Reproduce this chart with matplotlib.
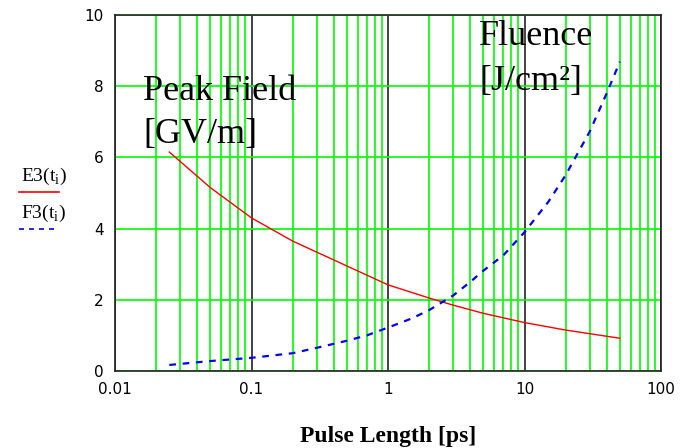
#! /usr/bin/env python3
"""
Peak field and fluence versus pulse length (log axis)
"""
import matplotlib
matplotlib.use('Agg')
import matplotlib.pyplot as plt
from matplotlib.lines import Line2D
from matplotlib.ticker import FixedLocator, NullFormatter

# values
t_e = [0.025, 0.05, 0.1, 0.2, 0.5, 1, 2, 3, 5, 10, 20, 50]
e3 = [6.15, 5.15, 4.3, 3.65, 2.95, 2.42, 2.05, 1.85, 1.62, 1.36, 1.15, 0.92]
t_f = [0.025, 0.05, 0.1, 0.2, 0.3, 0.5, 0.7, 1, 1.5, 2, 3, 4, 5, 7, 10, 15, 20, 30, 40, 50]
f3 = [0.17, 0.28, 0.37, 0.5, 0.65, 0.85, 1.0, 1.22, 1.48, 1.71, 2.12, 2.5, 2.82, 3.25,
      3.9, 4.76, 5.5, 6.72, 7.8, 8.69]

x_ticks = [0.01, 0.1, 1, 10, 100]
x_labels = ['0.01', '0.1', '1', '10', '100']
y_ticks = [0, 2, 4, 6, 8, 10]

green = '#00ff00'

fig = plt.figure(figsize=(6.85, 4.48), dpi=100)
ax = fig.add_axes([115/685, 1 - 371/448, 546/685, 356/448])

ax.set_xscale('log')
ax.set_xlim(0.01, 100)
ax.set_ylim(0, 10)

ax.xaxis.set_major_locator(FixedLocator(x_ticks))
ax.set_xticklabels(x_labels)
minors = [m * d for d in [0.01, 0.1, 1, 10] for m in range(2, 10)]
ax.xaxis.set_minor_locator(FixedLocator(minors))
ax.xaxis.set_minor_formatter(NullFormatter())
ax.set_yticks(y_ticks)
ax.set_yticklabels([str(v) for v in y_ticks])

ax.grid(True, which='minor', axis='x', color=green, lw=1.2)
ax.grid(True, which='major', axis='x', color='#222222', lw=1.2)
ax.grid(True, which='major', axis='y', color=green, lw=1.2)
ax.set_axisbelow(True)

ax.tick_params(which='both', length=0, labelsize=11, pad=8)
for s in ax.spines.values():
    s.set_color('#222222')
    s.set_linewidth(1.2)

ax.plot(t_e, e3, color='red', lw=1.0)
ax.plot(t_f, f3, color='blue', lw=1.6, dashes=(3, 3))

serif = ['Liberation Serif', 'DejaVu Serif']
fig.text(143/685, 1 - 100/448, 'Peak Field', fontsize=26, family=serif, va='baseline')
fig.text(143/685, 1 - 143/448, '[GV/m]', fontsize=26, family=serif, va='baseline')
fig.text(479/685, 1 - 45/448, 'Fluence', fontsize=26, family=serif, va='baseline')
fig.text(479/685, 1 - 90/448, '[J/cm\u00b2]', fontsize=26, family=serif, va='baseline')

fig.text(388/685, 1 - 436/448, 'Pulse Length [ps]', fontsize=17, family=serif,
         weight='bold', ha='center', va='center')

# legend on the left side
fig.text(21/685, 1 - 181/448, 'E3(t$_\\mathregular{i}$)', fontsize=14, family=serif, va='baseline')
fig.add_artist(Line2D([19/685, 59/685], [1 - 192/448] * 2, color='red', lw=1.2))
fig.text(21/685, 1 - 218/448, 'F3(t$_\\mathregular{i}$)', fontsize=14, family=serif, va='baseline')
fig.add_artist(Line2D([19/685, 59/685], [1 - 229/448] * 2, color='blue', lw=1.2,
                      dashes=(3, 3)))

fig.savefig('out.png', dpi=100)
